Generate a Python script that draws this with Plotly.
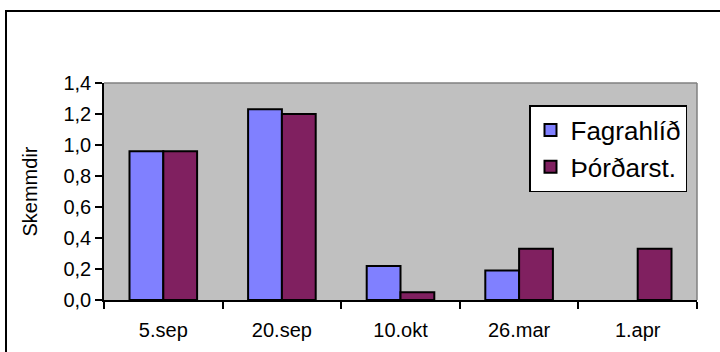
import plotly.graph_objects as go

# Sampling dates and damage scores per site
dates = ["5.sep", "20.sep", "10.okt", "26.mar", "1.apr"]
fagrahlid = [0.96, 1.23, 0.22, 0.19, None]
thordarst = [0.96, 1.20, 0.05, 0.33, 0.33]

series_names = ["Fagrahlíð", "Þórðarst."]
series_colors = ["#8080FF", "#802060"]
y_ticks = [0.0, 0.2, 0.4, 0.6, 0.8, 1.0, 1.2, 1.4]

font_family = "Liberation Sans, Arial, sans-serif"

W, H = 720, 352
ML, MR, MT, MB = 104, 23, 83, 52
PW, PH = W - ML - MR, H - MT - MB

fig = go.Figure()
for name, vals, col in zip(series_names, [fagrahlid, thordarst], series_colors):
    fig.add_trace(go.Bar(
        x=dates, y=vals, name=name,
        marker=dict(color=col, line=dict(color="black", width=2)),
    ))

fig.update_layout(
    width=W, height=H,
    margin=dict(l=ML, r=MR, t=MT, b=MB),
    paper_bgcolor="white",
    plot_bgcolor="#C0C0C0",
    separators=",.",
    barmode="group",
    bargap=0.43,
    bargroupgap=0,
    font=dict(family=font_family, color="black", size=20),
    showlegend=True,
    legend=dict(
        x=(529 - ML) / PW, y=(H - MB - 105) / PH, xanchor="left", yanchor="top",
        bgcolor="white", bordercolor="black", borderwidth=1.5,
        font=dict(size=26, family=font_family, color="black"),
        itemwidth=30,
    ),
    xaxis=dict(
        type="category",
        showline=True, linecolor="black", linewidth=1.5,
        ticks="outside", tickson="boundaries", ticklen=7, tickcolor="black",
        tickwidth=1.5,
        tickfont=dict(size=20),
        ticklabelstandoff=11,
        showgrid=False, zeroline=False,
    ),
    yaxis=dict(
        range=[0, 1.4],
        tickvals=y_ticks, tickformat=".1f",
        showline=True, linecolor="black", linewidth=1.5,
        ticks="outside", ticklen=7, tickcolor="black", tickwidth=1.5,
        tickfont=dict(size=20),
        showgrid=False, zeroline=False,
        title=dict(text="Skemmdir", font=dict(size=20), standoff=20),
    ),
)

# Gray border along the top and right edges of the plot area
fig.add_shape(type="line", xref="paper", yref="paper", x0=0, x1=1, y0=1, y1=1,
              line=dict(color="#808080", width=1.5), layer="below")
fig.add_shape(type="line", xref="paper", yref="paper", x0=1, x1=1, y0=0, y1=1,
              line=dict(color="#808080", width=1.5), layer="below")

# Outer chart frame; only its top and left edges lie inside the page
fig.add_shape(type="rect", xref="paper", yref="paper",
              x0=(6 - ML) / PW, x1=1.2, y0=-0.5, y1=(H - MB - 11) / PH,
              line=dict(color="black", width=2), fillcolor="rgba(0,0,0,0)")

fig.write_html("out.html")
